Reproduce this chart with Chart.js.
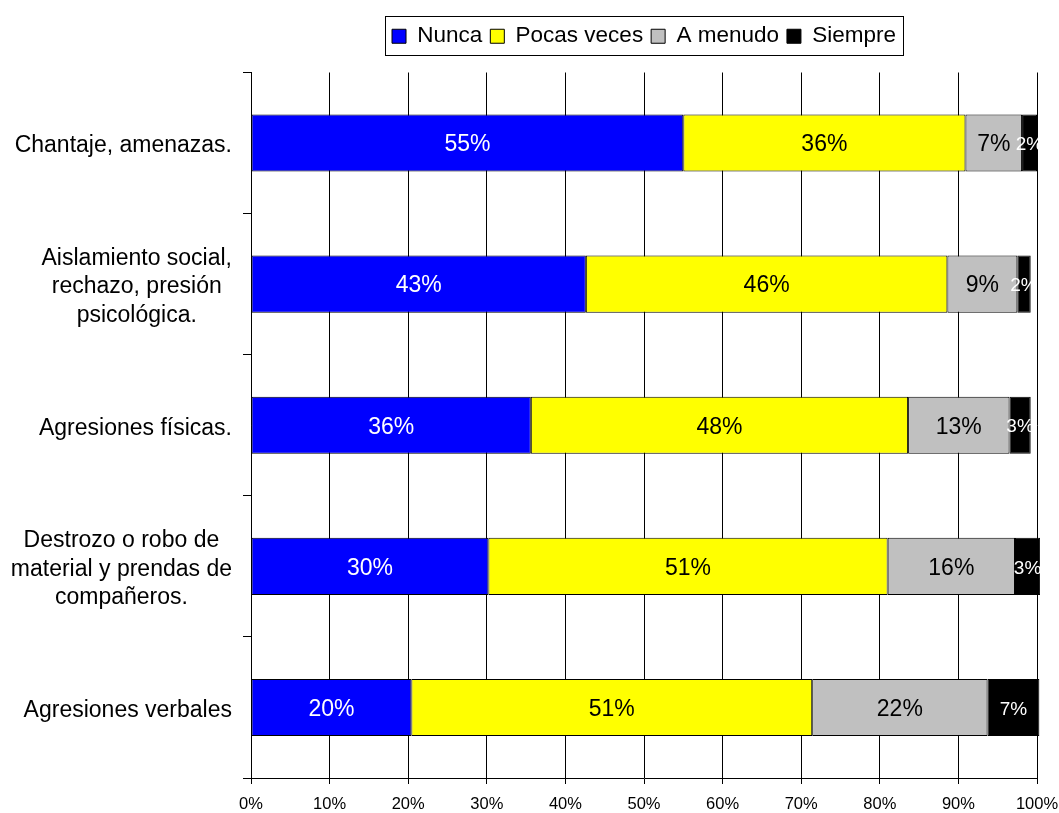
<!DOCTYPE html>
<html>
<head>
<meta charset="utf-8">
<script src="https://cdn.jsdelivr.net/npm/chart.js@4/dist/chart.umd.min.js"></script>
<style>
  html, body { margin: 0; padding: 0; background: #fff; }
  #wrap { width: 1059px; height: 813px; position: relative; }
</style>
</head>
<body>
<div id="wrap"><canvas id="bullying-chart"></canvas></div>
<script>
// categories, top to bottom
const categories = [
  'Chantaje, amenazas.',
  ['Aislamiento social,', 'rechazo, presión', 'psicológica.'],
  'Agresiones físicas.',
  ['Destrozo o robo de', 'material y prendas de', 'compañeros.'],
  'Agresiones verbales'
];

// series values (%)
const nunca = [55.0, 42.6, 35.6, 30.2, 20.4];
const pocasVeces = [35.9, 46.0, 48.0, 50.8, 51.0];
const aMenudo = [7.2, 8.9, 12.9, 16.2, 22.3];
const siempre = [1.9, 1.7, 2.7, 3.2, 6.6];

const xTicks = [0, 10, 20, 30, 40, 50, 60, 70, 80, 90, 100];

const FONT = '"Liberation Sans", Arial, sans-serif';

// draw the percentage inside every segment
const segmentLabels = {
  id: 'segmentLabels',
  afterDatasetsDraw(chart) {
    const ctx = chart.ctx;
    const area = chart.chartArea;
    ctx.save();
    ctx.beginPath();
    ctx.rect(area.left, area.top - 5, area.right - area.left + 3, area.bottom - area.top + 10);
    ctx.clip();
    ctx.textAlign = 'center';
    ctx.textBaseline = 'middle';
    chart.data.datasets.forEach((ds, di) => {
      const meta = chart.getDatasetMeta(di);
      ctx.fillStyle = ds.labelColor;
      ctx.font = ds.labelSize + 'px ' + FONT;
      meta.data.forEach((bar, i) => {
        const cx = (bar.x + bar.base) / 2;
        ctx.fillText(Math.round(ds.data[i]) + '%', cx, bar.y + 2);
      });
    });
    ctx.restore();
  }
};

// category labels: block right-aligned to the axis, lines centred inside it
const categoryLabels = {
  id: 'categoryLabels',
  afterDraw(chart) {
    const ctx = chart.ctx;
    const yScale = chart.scales.y;
    const lineH = 28.5;
    ctx.save();
    ctx.font = '23px ' + FONT;
    ctx.fillStyle = '#000';
    ctx.textAlign = 'center';
    ctx.textBaseline = 'middle';
    categories.forEach((cat, i) => {
      const lines = Array.isArray(cat) ? cat : [cat];
      const blockW = Math.max(...lines.map(l => ctx.measureText(l).width));
      const cx = 232 - blockW / 2;
      const cy = yScale.getPixelForTick(i) + 3;
      lines.forEach((l, j) => {
        ctx.fillText(l, cx, cy + (j - (lines.length - 1) / 2) * lineH);
      });
    });
    ctx.restore();
  }
};

// frame around the legend + extra gap below it
const legendFrame = {
  id: 'legendFrame',
  beforeUpdate(chart) {
    const legend = chart.legend;
    if (legend && !legend._gapPatched) {
      const fit = legend.fit;
      legend.fit = function () {
        fit.call(this);
        this.height += 15;
      };
      legend._gapPatched = true;
    }
  },
  afterDraw(chart) {
    const boxes = chart.legend.legendHitBoxes;
    if (!boxes || !boxes.length) return;
    const first = boxes[0];
    const last = boxes[boxes.length - 1];
    const ctx = chart.ctx;
    const mid = first.top + first.height / 2;
    ctx.save();
    ctx.strokeStyle = '#000';
    ctx.lineWidth = 1;
    const left = Math.round(first.left - 7) + 0.5;
    const right = Math.round(last.left + last.width + 7) + 0.5;
    const top = Math.round(mid - 20) + 0.5;
    const bottom = Math.round(mid + 19) + 0.5;
    ctx.strokeRect(left, top, right - left, bottom - top);
    ctx.restore();
  }
};

function makeDataset(label, data, color, labelColor, labelSize) {
  return {
    label: label,
    data: data,
    backgroundColor: color,
    borderColor: '#000',
    borderWidth: 1,
    borderSkipped: false,
    categoryPercentage: 1,
    barPercentage: 0.405,
    clip: { left: 0, top: 0, right: 3, bottom: 0 },
    labelColor: labelColor,
    labelSize: labelSize
  };
}

new Chart(document.getElementById('bullying-chart'), {
  type: 'bar',
  data: {
    labels: categories,
    datasets: [
      makeDataset('Nunca', nunca, '#0000ff', '#ffffff', 23),
      makeDataset('Pocas veces', pocasVeces, '#ffff00', '#000000', 23),
      makeDataset('A menudo', aMenudo, '#c0c0c0', '#000000', 23),
      makeDataset('Siempre', siempre, '#000000', '#ffffff', 19)
    ]
  },
  plugins: [segmentLabels, categoryLabels, legendFrame],
  options: {
    indexAxis: 'y',
    responsive: true,
    maintainAspectRatio: false,
    animation: false,
    layout: { padding: { top: 17, left: 0, right: 0, bottom: 0 } },
    scales: {
      x: {
        stacked: true,
        min: 0,
        max: 100,
        afterBuildTicks: (scale) => { scale.ticks = xTicks.map(v => ({ value: v })); },
        afterFit: (scale) => { scale.height = 35; scale.paddingRight = 22; },
        ticks: {
          callback: (v) => v + '%',
          color: '#000',
          font: { family: FONT, size: 16.5 },
          padding: 11,
          maxRotation: 0
        },
        grid: { color: '#000', lineWidth: 1, tickLength: 6, tickColor: '#000' },
        border: { color: '#000', width: 1 }
      },
      y: {
        stacked: true,
        afterFit: (scale) => { scale.width = 251; },
        ticks: { display: false },
        grid: { offset: true, drawOnChartArea: false, color: '#000', tickLength: 8, tickColor: '#000' },
        border: { color: '#000', width: 1 }
      }
    },
    plugins: {
      tooltip: { enabled: false },
      legend: {
        position: 'top',
        fullSize: false,
        labels: {
          color: '#000',
          font: { family: FONT, size: 22.5 },
          boxWidth: 14,
          boxHeight: 14,
          padding: 8
        }
      }
    }
  }
});
</script>
</body>
</html>
